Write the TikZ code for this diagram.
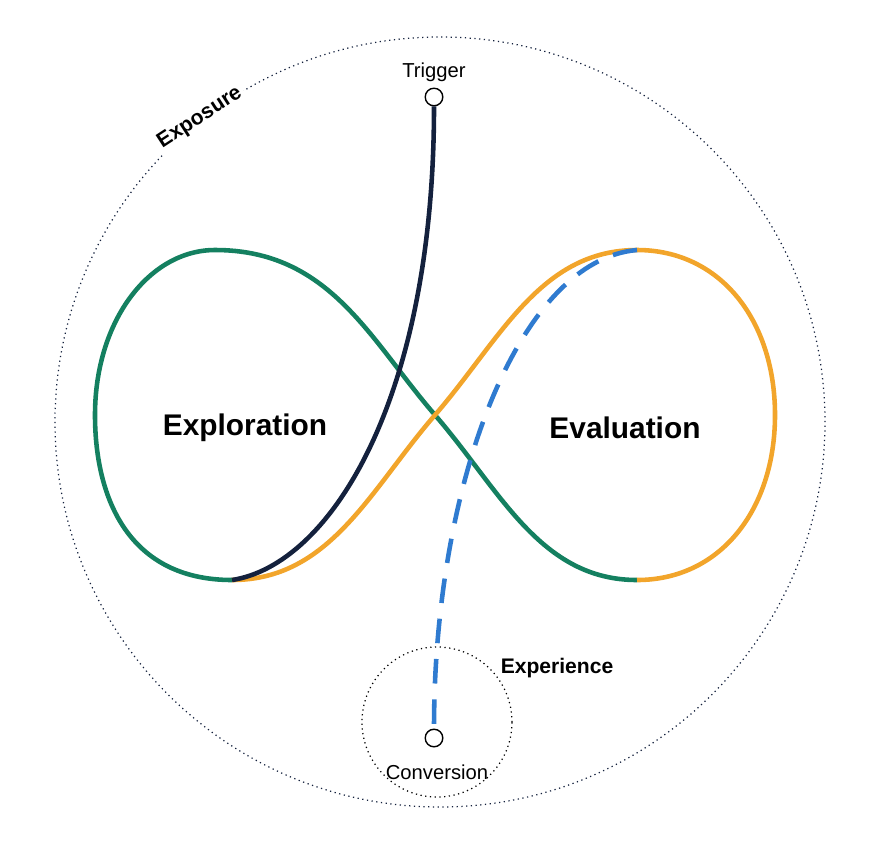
\documentclass[tikz,border=0pt]{standalone}
\usepackage{fontspec}
\setmainfont{Liberation Sans}
\begin{document}
\begin{tikzpicture}[x=0.02cm,y=-0.02cm,
  loop/.style={line width=2.6pt},
  dotc/.style={line width=0.7pt,dotted},
  endpt/.style={circle,draw,fill=white,line width=0.8pt,minimum size=10pt,inner sep=0pt},
  big/.style={font=\bfseries\fontsize{17}{19}\selectfont},
  lab/.style={font=\fontsize{11.5}{13}\selectfont}]
\definecolor{grn}{HTML}{148060}
\definecolor{org}{HTML}{F2A52B}
\definecolor{nav}{HTML}{14213D}
\definecolor{blu}{HTML}{2F7BD0}
\useasboundingbox (0,0) rectangle (875,846);
\draw[dotc,nav] (440,422) circle[radius=385*0.02cm];
\draw[dotc,black] (437,722) circle[radius=75*0.02cm];
\coordinate (bl) at (232,580);
\coordinate (br) at (637,580);
\coordinate (tr) at (637,250);
\draw[loop,grn] (bl) .. controls (130,580) and (95,500) .. (95,415) .. controls (95,320) and (150,250) .. (215,250) .. controls (330,250) and (370,340) .. (435,415) .. controls (500,490) and (540,580) .. (br);
\draw[loop,org] (bl) .. controls (330,580) and (370,490) .. (435,415) .. controls (500,340) and (540,250) .. (tr) .. controls (720,250) and (775,320) .. (775,415) .. controls (775,510) and (720,580) .. (br);
\node[endpt] (trig) at (434,97) {};
\node[endpt] (conv) at (434,738) {};
\draw[loop,nav] (trig.south) .. controls (434,400) and (330,565) .. (bl);
\draw[loop,blu,dash pattern=on 14pt off 9pt] (tr) .. controls (520,260) and (434,480) .. (conv.north);
\node[lab] (tl) at (434,72) {Trigger};
\node[lab] (cl) at (437,772) {Conversion};
\node[big] (xl) at (245,428) {Exploration};
\node[big] (vl) at (625,428) {Evaluation};
\node[font=\bfseries\fontsize{12}{14}\selectfont,rotate=33,fill=white,inner sep=2pt] (ex) at (200,118) {Exposure};
\node[font=\bfseries\fontsize{12}{14}\selectfont] (ep) at (557,668) {Experience};
\end{tikzpicture}
\end{document}
